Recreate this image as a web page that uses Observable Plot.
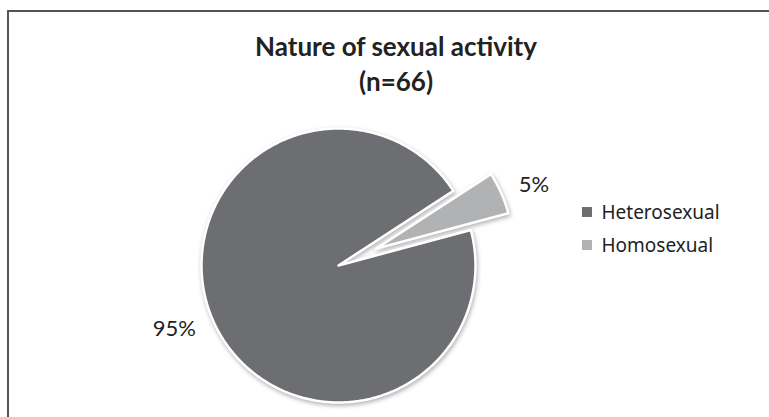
<!DOCTYPE html>
<html>
<head>
<meta charset="utf-8">
<script src="https://cdn.jsdelivr.net/npm/d3@7"></script>
<script src="https://cdn.jsdelivr.net/npm/@observablehq/plot@0.6"></script>
<style>
  html, body { margin: 0; padding: 0; background: #fff; }
  #chart { position: relative; width: 769px; height: 417px; overflow: hidden; font-family: Lato, "Open Sans", sans-serif; color: #222; }
  #frame { position: absolute; left: 7px; top: 10px; width: 820px; height: 480px; border-left: 2px solid #555; border-top: 2px solid #555; }
  #plot { position: absolute; left: 0; top: 0; }
  #title { position: absolute; left: 0; top: 29px; width: 792px; text-align: center; font-size: 26px; font-weight: bold; line-height: 35px; color: #222; }
  #legend { position: absolute; left: 582px; top: 202px; width: 185px; }
  #legend [class$="-swatch"] { padding-bottom: 13px !important; line-height: 20px; font-size: 19px; color: #222; }
  #legend * { overflow: visible !important; text-overflow: clip !important; }
  #plot g[aria-label="line"] { filter: drop-shadow(1px 2px 2px rgba(0,0,0,0.3)); }
</style>
</head>
<body>
<div id="chart">
  <div id="frame"></div>
  <div id="plot"></div>
  <div id="title"></div>
  <div id="legend"></div>
</div>
<script>
// Nature of sexual activity among respondents (n=66)
const categories = ["Heterosexual", "Homosexual"];
const percents = [95, 5];
const titleLines = ["Nature of sexual activity", "(n=66)"];

const sliceColors = ["#6d6e71", "#b1b2b4"];

// Pie layout: first slice starts at 75° clockwise from 12 o'clock
const startAngle = 75 * Math.PI / 180;
const arcs = d3.pie().sort(null)
  .startAngle(startAngle)
  .endAngle(startAngle + 2 * Math.PI)(percents);

// pulled-out slices, as a fraction of the radius
const explode = {Homosexual: 0.3};
// data labels sit just outside the rim, anchored away from the pie
const labelRadius = 1.14;

const outline = [];
const labels = [];
arcs.forEach((a, i) => {
  const name = categories[i];
  const mid = (a.startAngle + a.endAngle) / 2;
  const off = explode[name] || 0;
  const ox = off * Math.sin(mid), oy = off * Math.cos(mid);
  outline.push({name, x: ox, y: oy});
  const n = Math.max(2, Math.ceil((a.endAngle - a.startAngle) / (Math.PI / 360)));
  for (let k = 0; k <= n; ++k) {
    const t = a.startAngle + (a.endAngle - a.startAngle) * k / n;
    outline.push({name, x: ox + Math.sin(t), y: oy + Math.cos(t)});
  }
  outline.push({name, x: ox, y: oy});
  labels.push({
    text: `${percents[i]}%`,
    x: ox + labelRadius * Math.sin(mid),
    y: oy + labelRadius * Math.cos(mid),
    anchor: Math.sin(mid) >= 0 ? "start" : "end"
  });
});

const plot = Plot.plot({
  width: 769,
  height: 417,
  margin: 0,
  style: {background: "transparent", fontFamily: "Lato, 'Open Sans', sans-serif"},
  x: {domain: [-1, 1], range: [201, 475], axis: null},
  y: {domain: [-1, 1], range: [402, 128], axis: null},
  color: {domain: categories, range: sliceColors},
  marks: [
    Plot.line(outline, {
      x: "x", y: "y", z: "name", fill: "name",
      stroke: "white", strokeWidth: 2.5, strokeLinejoin: "round",
      curve: "linear"
    }),
    Plot.text(labels.filter(d => d.anchor === "start"), {x: "x", y: "y", text: "text", textAnchor: "start", fontSize: 22, fill: "#222"}),
    Plot.text(labels.filter(d => d.anchor === "end"), {x: "x", y: "y", text: "text", textAnchor: "end", fontSize: 22, fill: "#222"})
  ]
});
document.getElementById("plot").appendChild(plot);

document.getElementById("title").innerHTML = titleLines.map(t => `<div>${t}</div>`).join("");

const legend = Plot.legend({
  color: {domain: categories, range: sliceColors},
  legend: "swatches",
  columns: 1,
  swatchSize: 10,
  className: "lg"
});
document.getElementById("legend").appendChild(legend);
</script>
</body>
</html>
